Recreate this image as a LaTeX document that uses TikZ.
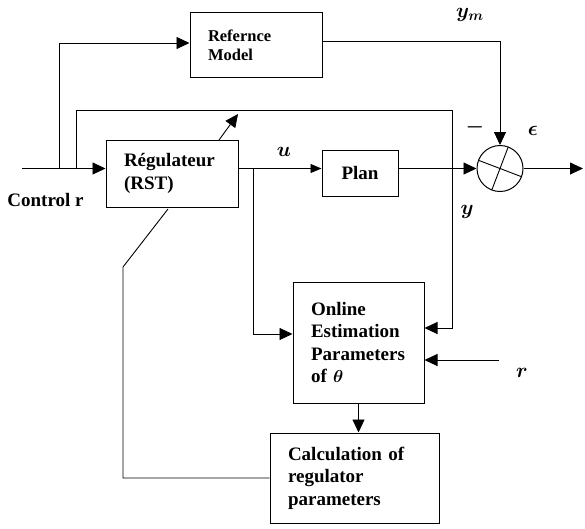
\documentclass[tikz,border=0pt]{standalone}
\usepackage{fontspec}
\setmainfont{Liberation Serif}
\usepackage{bm}
\usetikzlibrary{arrows.meta,calc}
\begin{document}
\begin{tikzpicture}[x=1pt,y=-1pt,line width=0.9pt,
  blk/.style={draw,line width=1pt,align=left,inner xsep=18pt,inner ysep=0pt,font=\fontsize{19}{22.5}\selectfont\bfseries},
  arr/.style={-{Triangle[length=13pt,width=12pt]}},
  sarr/.style={-{Triangle[length=11pt,width=9pt]}},
  lab/.style={font=\fontsize{20}{22}\selectfont,inner sep=0pt}]
\useasboundingbox (0,0) rectangle (585,528);
% blocks
\node[blk,text width=96pt,minimum height=65pt,font=\fontsize{16.5}{19}\selectfont\bfseries] (ref) at (256,45) {Refernce\\Model};
\node[blk,text width=96pt,minimum height=67pt] (reg) at (172,173.5) {Régulateur\\(RST)};
\node[blk,minimum width=76pt,minimum height=46pt,align=center,inner xsep=0pt] (plan) at (360,173) {Plan};
\node[blk,text width=95pt,minimum height=121pt] (est) at (358.5,342.5) {Online\\Estimation\\Parameters\\of $\bm{\theta}$};
\node[blk,text width=133pt,minimum height=90pt] (calc) at (354.5,478) {Calculation of\\regulator\\parameters};
\node[draw,circle,minimum size=46pt,inner sep=0pt,line width=1pt] (sum) at (500,168.5) {};
\draw ($(sum.center)+(21.5,8.2)$) -- ($(sum.center)+(-21.5,-8.2)$);
\draw ($(sum.center)+(-8.2,21.5)$) -- ($(sum.center)+(8.2,-21.5)$);
% labels
\node[font=\fontsize{19}{22}\selectfont\bfseries,anchor=west,inner sep=0pt] (ctl) at (7,200) {Control r};
\node[lab] (lu) at (284,152) {$\bm{u}$};
\node[lab] (lym) at (470,15) {$\bm{y_m}$};
\node[lab] (lmin) at (475,127) {$\bm{-}$};
\node[lab] (leps) at (533,131) {$\bm{\epsilon}$};
\node[lab] (ly) at (467,212) {$\bm{y}$};
\node[lab] (lr) at (522,373) {$\bm{r}$};
% coordinates
\coordinate (in) at (22,168.5);
\coordinate (b1) at (59,168.5);
\coordinate (b1t) at (59,43);
\coordinate (b2) at (76,168.5);
\coordinate (b2t) at (76,110);
\coordinate (b2r) at (452,110);
\coordinate (b2b) at (452,328);
\coordinate (ymc) at (500,41);
\coordinate (jd) at (253,168.5);
\coordinate (jdb) at (253,334);
\coordinate (out) at (583,168.5);
\coordinate (rin) at (499,360);
\coordinate (da) at (219,140);
\coordinate (dt) at (238,114);
\coordinate (f1) at (123,478);
\coordinate (f2) at (123,267);
\coordinate (f3) at (168,209);
% connectors
\draw[arr] (in) -- (reg.west |- in);
\draw[arr] (b1) -- (b1t) -- (ref.west |- b1t);
\draw[arr] (b2) -- (b2t) -- (b2r) -- (b2b) -- (est.east |- b2b);
\draw[arr] (ref.east |- ymc) -- (ymc) -- (sum.north);
\draw[sarr] (reg.east |- in) -- (plan.west |- in);
\draw[arr] (plan.east |- sum.west) -- (sum.west);
\draw[arr] (sum.east) -- (out);
\draw[arr] (jd) -- (jdb) -- (est.west |- jdb);
\draw[arr] (est.south) -- (calc.north -| est.south);
\draw[arr] (rin) -- (est.east |- rin);
\draw[arr] (da) -- (dt);
\draw (calc.west) -- (f1) -- (f2) -- (f3);
\end{tikzpicture}
\end{document}
